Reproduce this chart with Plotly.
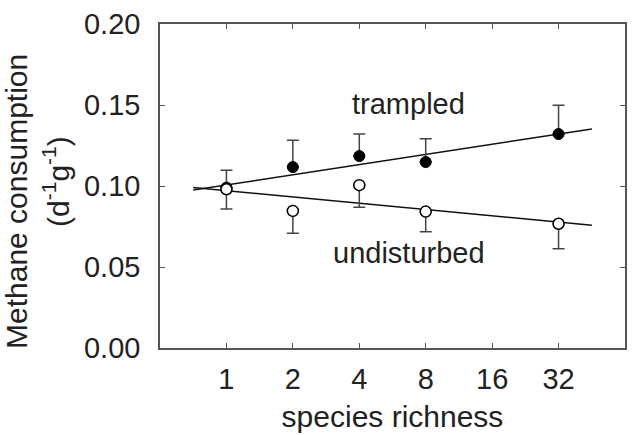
import math
import plotly.graph_objects as go

richness = [1, 2, 4, 8, 32]
trampled = [0.099, 0.1117, 0.1185, 0.1148, 0.1321]
trampled_err_up = [0.0107, 0.0166, 0.0136, 0.0143, 0.0177]
undisturbed = [0.098, 0.0846, 0.1005, 0.0842, 0.0767]
undisturbed_err_down = [0.0122, 0.0138, 0.0136, 0.0124, 0.0155]

fit_x = [0.707, 45.3]
trampled_fit = [0.0975, 0.1352]
undisturbed_fit = [0.0991, 0.0758]

x_ticks = [1, 2, 4, 8, 16, 32]
x_ticktext = ["1", "2", "4", "8", "16", "32"]
y_ticks = [0.0, 0.05, 0.10, 0.15, 0.20]

FONT = "Liberation Sans, Arial, Helvetica, sans-serif"
AX = "#555555"
ERR = "#444444"
TXT = "#222222"

ML, MR, MT, MB = 160, 7, 24, 84
W, H = 634, 435

fig = go.Figure()
fig.add_trace(go.Scatter(x=fit_x, y=trampled_fit, mode="lines",
                         line=dict(color="#111111", width=1.5), showlegend=False))
fig.add_trace(go.Scatter(x=fit_x, y=undisturbed_fit, mode="lines",
                         line=dict(color="#111111", width=1.5), showlegend=False))
fig.add_trace(go.Scatter(
    x=richness, y=trampled, mode="markers",
    marker=dict(symbol="circle", size=11, color="black", line=dict(color="black", width=1)),
    error_y=dict(type="data", symmetric=False, array=trampled_err_up,
                 arrayminus=[0] * len(trampled), color=ERR, thickness=1.5, width=6),
    showlegend=False))
fig.add_trace(go.Scatter(
    x=richness, y=undisturbed, mode="markers",
    marker=dict(symbol="circle", size=11, color="white", line=dict(color="black", width=1.5)),
    error_y=dict(type="data", symmetric=False, array=[0] * len(undisturbed),
                 arrayminus=undisturbed_err_down, color=ERR, thickness=1.5, width=6),
    showlegend=False))

fig.add_annotation(x=math.log10(6.7), y=0.1505, xref="x", yref="y", text="trampled",
                   showarrow=False, xanchor="center", yanchor="middle",
                   font=dict(family=FONT, size=29, color=TXT))
fig.add_annotation(x=math.log10(6.7), y=0.0587, xref="x", yref="y", text="undisturbed",
                   showarrow=False, xanchor="center", yanchor="middle",
                   font=dict(family=FONT, size=29, color=TXT))

plot_h = H - MT - MB
plot_w = W - ML - MR
def px_to_paper(px, py):
    return (px - ML) / plot_w, (H - MB - py) / plot_h

x1, y1 = px_to_paper(16, 203)
x2, y2 = px_to_paper(55, 183)
fig.add_annotation(x=x1, y=y1, xref="paper", yref="paper", text="Methane consumption",
                   showarrow=False, textangle=-90, xanchor="center", yanchor="middle",
                   font=dict(family=FONT, size=30, color=TXT))
fig.add_annotation(x=x2, y=y2, xref="paper", yref="paper", text="(d<sup>-1</sup>g<sup>-1</sup>)",
                   showarrow=False, textangle=-90, xanchor="center", yanchor="middle",
                   font=dict(family=FONT, size=30, color=TXT))

fig.update_layout(
    width=W, height=H,
    margin=dict(l=ML, r=MR, t=MT, b=MB),
    paper_bgcolor="white", plot_bgcolor="white",
    font=dict(family=FONT, size=29, color=TXT),
    xaxis=dict(type="log", range=[-0.30103, 1.80618], tickvals=x_ticks, ticktext=x_ticktext,
               ticks="inside", ticklen=5, tickwidth=1.2, tickcolor=AX,
               showline=True, linecolor=AX, linewidth=1.5, mirror="ticks",
               showgrid=False, zeroline=False, ticklabelstandoff=4,
               title=dict(text="species richness", font=dict(size=30), standoff=12)),
    yaxis=dict(range=[0, 0.2], tickvals=y_ticks, tickformat=".2f",
               ticks="inside", ticklen=5, tickwidth=1.2, tickcolor=AX,
               showline=True, linecolor=AX, linewidth=1.5, mirror="ticks",
               showgrid=False, zeroline=False, ticklabelstandoff=12),
)

fig.write_html("out.html")
